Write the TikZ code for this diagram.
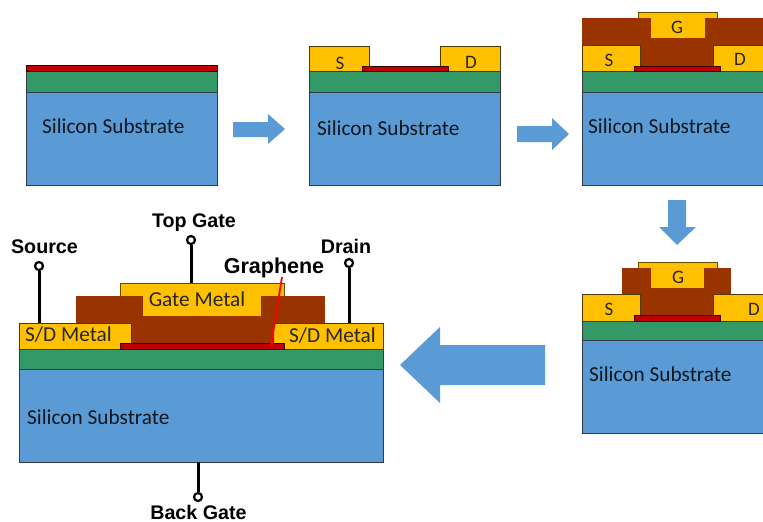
\documentclass[tikz,border=0pt]{standalone}
\usepackage{fontspec}
\usetikzlibrary{arrows.meta}
\setmainfont{Carlito}
\newfontfamily\leadfont{Liberation Sans}
\definecolor{substrateblue}{HTML}{5B9BD5}
\definecolor{oxidegreen}{HTML}{339966}
\definecolor{metalgold}{HTML}{FFC000}
\definecolor{grapheneRed}{HTML}{C00000}
\definecolor{dielbrown}{HTML}{993300}
\definecolor{edgegray}{HTML}{2F3B45}
\begin{document}
\begin{tikzpicture}[x=1pt,y=-1pt,substrate/.style={fill=substrateblue,draw=edgegray,line width=1pt},oxide/.style={fill=oxidegreen,draw=edgegray,line width=0.8pt},metal/.style={fill=metalgold,draw=black!70!metalgold,line width=0.8pt},gatefill/.style={fill=metalgold},graphene/.style={fill=grapheneRed,draw=black!70!grapheneRed,line width=0.8pt},diel/.style={fill=dielbrown},flow/.style={fill=substrateblue},subtext/.style={font=\fontsize{21.3}{23}\selectfont,text=black!85!substrateblue,anchor=west,inner sep=0pt},padtext/.style={font=\fontsize{19}{21}\selectfont,text=black!85,inner sep=0pt},padlong/.style={padtext,font=\fontsize{21.3}{23}\selectfont},leadtext/.style={font=\leadfont\bfseries\fontsize{19.7}{21}\selectfont,inner sep=0pt},term/.style={shape=circle,draw=black,line width=2.2pt,fill=white,inner sep=0pt,minimum size=8pt},lead/.style={draw=black,line width=3pt}]
\useasboundingbox (0,0) rectangle (763,522);
\clip (0,0) rectangle (763,522);
\fill[white] (0,0) rectangle (763,522);

\draw[substrate] (26,92) rectangle (217,185);
\draw[oxide] (26,71) rectangle (217,92);
\draw[graphene] (26,65) rectangle (217,71);
\node[subtext] (subA) at (42,126) {Silicon Substrate};

\fill[flow] (233,122) -- (268,122) -- (268,114) -- (285,129) -- (268,144) -- (268,137) -- (233,137) -- cycle;

\draw[substrate] (309,92) rectangle (500,185);
\draw[oxide] (309,71) rectangle (500,92);
\draw[metal] (309,71) -- (309,46) -- (369,46) -- (369,66) -- (362,66) -- (362,71) -- cycle;
\draw[metal] (500,71) -- (500,46) -- (440,46) -- (440,66) -- (448,66) -- (448,71) -- cycle;
\draw[graphene] (362,66) rectangle (448,71);
\node[padtext] (srcB) at (340,63) {S};
\node[padtext] (drnB) at (471,62) {D};
\node[subtext] (subB) at (317,128) {Silicon Substrate};

\fill[flow] (517,126) -- (552,126) -- (552,118) -- (569,134) -- (552,150) -- (552,142) -- (517,142) -- cycle;

\draw[substrate] (582,92) rectangle (775,185);
\draw[oxide] (582,71) rectangle (775,92);
\fill[diel] (582,18) rectangle (775,45);
\fill[diel] (640,45) rectangle (713,66);
\draw[metal] (582,71) -- (582,45) -- (640,45) -- (640,66) -- (634,66) -- (634,71) -- cycle;
\draw[metal] (775,71) -- (775,45) -- (713,45) -- (713,66) -- (720,66) -- (720,71) -- cycle;
\draw[graphene] (634,66) rectangle (720,71);
\fill[gatefill] (638,13) rectangle (717,18);
\draw[draw=black!60!metalgold,line width=0.8pt] (638,18) -- (638,12.5) -- (717,12.5) -- (717,18);
\fill[gatefill] (651,18) rectangle (705,38);
\node[padtext] (gateC) at (677,27) {G};
\node[padtext] (srcC) at (609,60) {S};
\node[padtext] (drnC) at (740,59) {D};
\node[subtext] (subC) at (588,126) {Silicon Substrate};

\fill[flow] (668,200) -- (686,200) -- (686,227) -- (696,227) -- (677,245) -- (659,227) -- (668,227) -- cycle;

\draw[substrate] (582,340) rectangle (775,433);
\draw[oxide] (582,321) rectangle (775,340);
\fill[diel] (622,268) rectangle (731,294);
\fill[diel] (640,294) rectangle (713,315);
\draw[metal] (582,321) -- (582,294) -- (640,294) -- (640,315) -- (634,315) -- (634,321) -- cycle;
\draw[metal] (775,321) -- (775,294) -- (713,294) -- (713,315) -- (720,315) -- (720,321) -- cycle;
\draw[graphene] (634,315) rectangle (720,321);
\fill[gatefill] (638,262) rectangle (717,268);
\draw[draw=black!60!metalgold,line width=0.8pt] (638,268) -- (638,262) -- (717,262) -- (717,268);
\fill[gatefill] (651,268) rectangle (704,288);
\node[padtext] (gateD) at (678,277) {G};
\node[padtext] (srcD) at (609,309) {S};
\node[padtext] (drnD) at (754,309) {D};
\node[subtext] (subD) at (589,374) {Silicon Substrate};

\fill[flow] (545,345) -- (440,345) -- (440,327) -- (400,365) -- (440,403) -- (440,385) -- (545,385) -- cycle;

\draw[substrate] (19,369) rectangle (383,462);
\draw[oxide] (19,349) rectangle (383,369);
\fill[diel] (76,296) rectangle (325,323);
\fill[diel] (131,323) rectangle (273,343);
\draw[metal] (19,349) -- (19,323) -- (131,323) -- (131,343) -- (120,343) -- (120,349) -- cycle;
\draw[metal] (383,349) -- (383,323) -- (273,323) -- (273,343) -- (284,343) -- (284,349) -- cycle;
\draw[graphene] (120,343) rectangle (284,349);
\fill[gatefill] (120,283) rectangle (284,296);
\draw[draw=black!60!metalgold,line width=0.8pt] (120,296) -- (120,283) -- (284,283) -- (284,296);
\fill[gatefill] (143,296) rectangle (261,316);
\node[padlong] (gateE) at (197,299) {Gate Metal};
\node[padlong,anchor=west] (srcE) at (25,335) {S/D Metal};
\node[padlong,anchor=west] (drnE) at (289,336) {S/D Metal};
\node[subtext] (subE) at (27,417) {Silicon Substrate};

\node[term] (S) at (39,266) {};
\node[term] (T) at (191,240) {};
\node[term] (Dr) at (349,263) {};
\node[term] (B) at (198,497) {};
\coordinate (Sb) at (39,323);
\coordinate (Tb) at (191,283);
\coordinate (Drb) at (349,323);
\coordinate (Bb) at (198,462);
\draw[lead] (S) -- (Sb);
\draw[lead] (T) -- (Tb);
\draw[lead] (Dr) -- (Drb);
\draw[lead] (B) -- (Bb);
\node[leadtext] (Sl) at (44.5,247) {Source};
\node[leadtext] (Tl) at (194,223) {Top Gate};
\node[leadtext] (Drl) at (346,246) {Drain};
\node[leadtext,font=\leadfont\bfseries\fontsize{21.5}{23}\selectfont] (Gl) at (274,268) {Graphene};
\node[leadtext,anchor=base] (Bl) at (198.5,519) {Back Gate};

\coordinate (Ga) at (282,277);
\coordinate (Gb) at (271,346);
\draw[red,line width=1.8pt,-{Stealth[length=5pt,width=5pt]}] (Ga) -- (Gb);
\end{tikzpicture}
\end{document}
